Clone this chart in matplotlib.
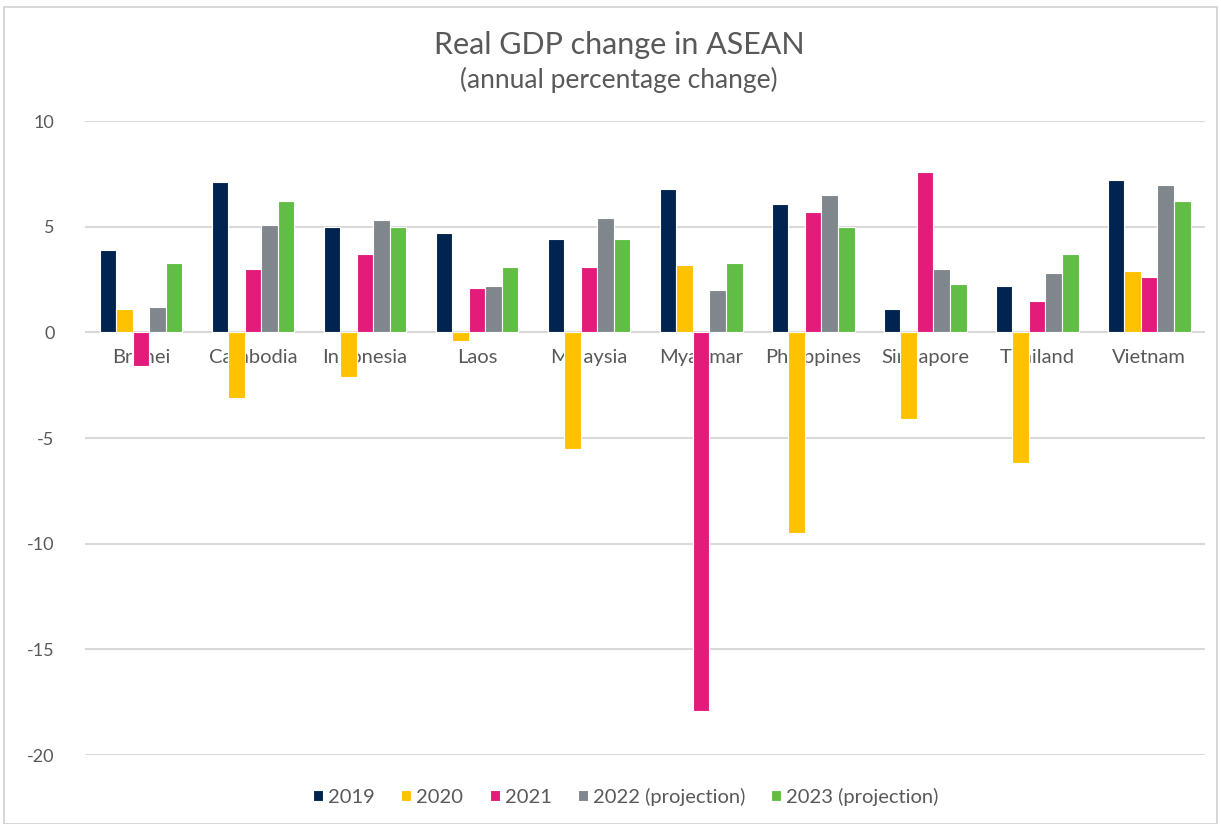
import matplotlib.pyplot as plt
import numpy as np
from matplotlib.patches import Rectangle

countries = ["Brunei", "Cambodia", "Indonesia", "Laos", "Malaysia",
             "Myanmar", "Philippines", "Singapore", "Thailand", "Vietnam"]
series = ["2019", "2020", "2021", "2022 (projection)", "2023 (projection)"]

gdp_2019 = [3.9, 7.1, 5.0, 4.7, 4.4, 6.8, 6.1, 1.1, 2.2, 7.2]
gdp_2020 = [1.1, -3.1, -2.1, -0.4, -5.5, 3.2, -9.5, -4.1, -6.2, 2.9]
gdp_2021 = [-1.6, 3.0, 3.7, 2.1, 3.1, -17.9, 5.7, 7.6, 1.5, 2.6]
gdp_2022 = [1.2, 5.1, 5.3, 2.2, 5.4, 2.0, 6.5, 3.0, 2.8, 7.0]
gdp_2023 = [3.3, 6.2, 5.0, 3.1, 4.4, 3.3, 5.0, 2.3, 3.7, 6.2]

COLORS = ["#00234F", "#FFC200", "#E31B7B", "#7F878D", "#62BD46"]
TEXT = "#595959"
GRID = "#D9D9D9"

plt.rcParams["font.family"] = ["Lato", "DejaVu Sans"]

fig = plt.figure(figsize=(12.21, 8.24), dpi=100)
ax = fig.add_axes([0.0696, 0.0837, 0.9174, 0.7693])

x = np.arange(len(countries))
width = 0.148
values = [gdp_2019, gdp_2020, gdp_2021, gdp_2022, gdp_2023]
for k, (name, vals) in enumerate(zip(series, values)):
    ax.bar(x + (k - 2) * width, vals, width, color=COLORS[k], label=name,
           edgecolor="white", linewidth=0.8, zorder=3)

ax.set_xlim(-0.5, len(countries) - 0.5)
ax.set_ylim(-20, 10)
ax.set_yticks([10, 5, 0, -5, -10, -15, -20])
ax.set_yticklabels(["10", "5", "0", "-5", "-10", "-15", "-20"])
ax.yaxis.grid(True, color=GRID, linewidth=1.5, zorder=0)
ax.set_axisbelow(True)

# country names sit just under the zero line, behind the bars
ax.set_xticks(x)
ax.set_xticklabels(countries)
ax.spines["bottom"].set_position(("data", 0))
for s in ["top", "right", "left", "bottom"]:
    ax.spines[s].set_visible(False)
ax.tick_params(axis="x", length=0, pad=12, labelsize=14.5, labelcolor=TEXT)
ax.tick_params(axis="y", length=0, pad=22, labelsize=13, labelcolor=TEXT)
for lbl in ax.get_yticklabels():
    lbl.set_horizontalalignment("right")

fig.text(0.507, 0.945, "Real GDP change in ASEAN", ha="center", va="center",
         fontsize=22, color=TEXT)
fig.text(0.507, 0.903, "(annual percentage change)", ha="center", va="center",
         fontsize=19, color=TEXT)

ax.legend(loc="center", bbox_to_anchor=(0.483, -0.066), ncol=5, frameon=False,
          fontsize=14.5, handlelength=0.5, handleheight=0.5, handletextpad=0.25,
          columnspacing=1.3, labelcolor=TEXT)

# light frame around the whole chart
fig.patches.append(Rectangle((0.003, 0.0), 0.994, 0.992, transform=fig.transFigure,
                             fill=False, edgecolor="#D0D0D0", linewidth=1.2))

fig.savefig("out.png", dpi=100)
